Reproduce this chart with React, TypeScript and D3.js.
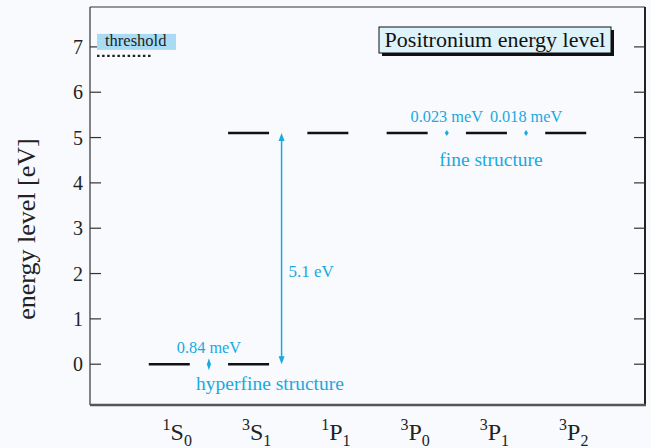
import React from "react";
import * as d3 from "d3";

// Term symbols: superscript multiplicity, letter, subscript J
const terms = ["1S0", "3S1", "1P1", "3P0", "3P1", "3P2"];
const termSup = ["1", "3", "1", "3", "3", "3"];
const termLetter = ["S", "S", "P", "P", "P", "P"];
const termSub = ["0", "1", "1", "0", "1", "2"];

// Energy levels (eV) drawn for each term
const levelTerm = ["1S0", "3S1", "3S1", "1P1", "3P0", "3P1", "3P2"];
const levelEnergy = [0, 0, 5.1, 5.1, 5.1, 5.1, 5.1];

const yTicks = [0, 1, 2, 3, 4, 5, 6, 7];
const thresholdEnergy = 6.8;
const gapEnergy = 5.1;

// Small splitting annotations: between two terms, at energy
const splitFrom = ["1S0", "3P0", "3P1"];
const splitTo = ["3S1", "3P1", "3P2"];
const splitEnergy = [0, 5.1, 5.1];
const splitLabel = ["0.84 meV", "0.023 meV", "0.018 meV"];
const splitSize = [6, 3, 3];

const W = 651;
const H = 448;
const left = 90;
const right = 645;
const top = 7;
const bottom = 405;
const cyan = "#19a9e1";
const font = "'Liberation Serif', 'DejaVu Serif', serif";

export default function App() {
  const x = d3.scalePoint<string>().domain(terms).range([left, right]).padding(1);
  const y = d3.scaleLinear().domain([-0.9, 7.88]).range([bottom, top]);
  const half = 20.5;
  const mid = (a: string, b: string) => ((x(a) as number) + (x(b) as number)) / 2;
  const arrowX = (x("3S1") as number) + 33;

  return (
    <svg width={W} height={H} style={{ position: "absolute", left: 0, top: 0, background: "#f8fafd" }} fontFamily={font}>
      <rect x={0} y={0} width={W} height={H} fill="#f8fafd" />
      {/* frame */}
      <line x1={left} y1={top} x2={right} y2={top} stroke="#333" strokeWidth={1} />
      <line x1={left} y1={top} x2={left} y2={bottom} stroke="#333" strokeWidth={1.2} />
      <line x1={right} y1={top} x2={right} y2={bottom + 1} stroke="#222" strokeWidth={2} />
      <line x1={left} y1={bottom} x2={right + 1} y2={bottom} stroke="#555" strokeWidth={2.5} />

      {/* y ticks and labels */}
      {yTicks.map((t) => (
        <g key={t}>
          <line x1={left} x2={left + 11} y1={y(t)} y2={y(t)} stroke="#333" strokeWidth={1.2} />
          <line x1={right - 11} x2={right} y1={y(t)} y2={y(t)} stroke="#333" strokeWidth={1.2} />
          <text x={83} y={y(t)} dy="0.35em" textAnchor="end" fontSize={20} fill="#222">{t}</text>
        </g>
      ))}
      <text transform={`translate(35,229) rotate(-90)`} textAnchor="middle" fontSize={26} fill="#222">
        energy level [eV]
      </text>

      {/* category labels */}
      {terms.map((t, i) => (
        <text key={t} x={(x(t) as number) + 8} y={440} textAnchor="middle" fontSize={24} fill="#222">
          <tspan fontSize={16} dy={-10}>{termSup[i]}</tspan>
          <tspan dy={10}>{termLetter[i]}</tspan>
          <tspan fontSize={16} dy={6}>{termSub[i]}</tspan>
        </text>
      ))}

      {/* threshold */}
      <rect x={97} y={y(7) - 13} width={79} height={16} fill="#a9dcf4" />
      <text x={105} y={y(7) - 0.5} fontSize={16.5} fill="#222">threshold</text>
      <line x1={97} x2={151} y1={y(thresholdEnergy)} y2={y(thresholdEnergy)} stroke="#222" strokeWidth={2.2} strokeDasharray="2.5,2.6" />

      {/* energy levels */}
      {levelTerm.map((t, i) => (
        <line key={i} x1={(x(t) as number) - half} x2={(x(t) as number) + half} y1={y(levelEnergy[i])} y2={y(levelEnergy[i])} stroke="#111" strokeWidth={2.4} />
      ))}

      {/* 5.1 eV gap arrow */}
      <line x1={arrowX} x2={arrowX} y1={y(0) - 6} y2={y(gapEnergy) + 6} stroke={cyan} strokeWidth={1.5} />
      <path d={`M${arrowX - 3},${y(gapEnergy) + 8} L${arrowX},${y(gapEnergy)} L${arrowX + 3},${y(gapEnergy) + 8} Z`} fill={cyan} />
      <path d={`M${arrowX - 3},${y(0) - 8} L${arrowX},${y(0)} L${arrowX + 3},${y(0) - 8} Z`} fill={cyan} />
      <text x={arrowX + 7} y={y(2) + 3} fontSize={17} fill={cyan}>5.1 eV</text>

      {/* splitting markers */}
      {splitFrom.map((a, i) => {
        const mx = mid(a, splitTo[i]);
        const my = y(splitEnergy[i]);
        const s = splitSize[i];
        return (
          <g key={i}>
            <path d={`M${mx},${my - s} L${mx + 2},${my} L${mx},${my + s} L${mx - 2},${my} Z`} fill={cyan} />
            <text x={mx} y={my - 11} textAnchor="middle" fontSize={16.3} fill={cyan}>{splitLabel[i]}</text>
          </g>
        );
      })}
      <text x={270} y={y(0) + 26} textAnchor="middle" fontSize={19.5} fill={cyan}>hyperfine structure</text>
      <text x={491} y={y(5.1) + 33} textAnchor="middle" fontSize={19.5} fill={cyan}>fine structure</text>

      {/* title box */}
      <rect x={382} y={30} width={232} height={26} fill="#111" />
      <rect x={379} y={27} width={232} height={26} fill="#def2fa" stroke="#111" strokeWidth={1} />
      <text x={495} y={47} textAnchor="middle" fontSize={22} fill="#111">Positronium energy level</text>
    </svg>
  );
}
